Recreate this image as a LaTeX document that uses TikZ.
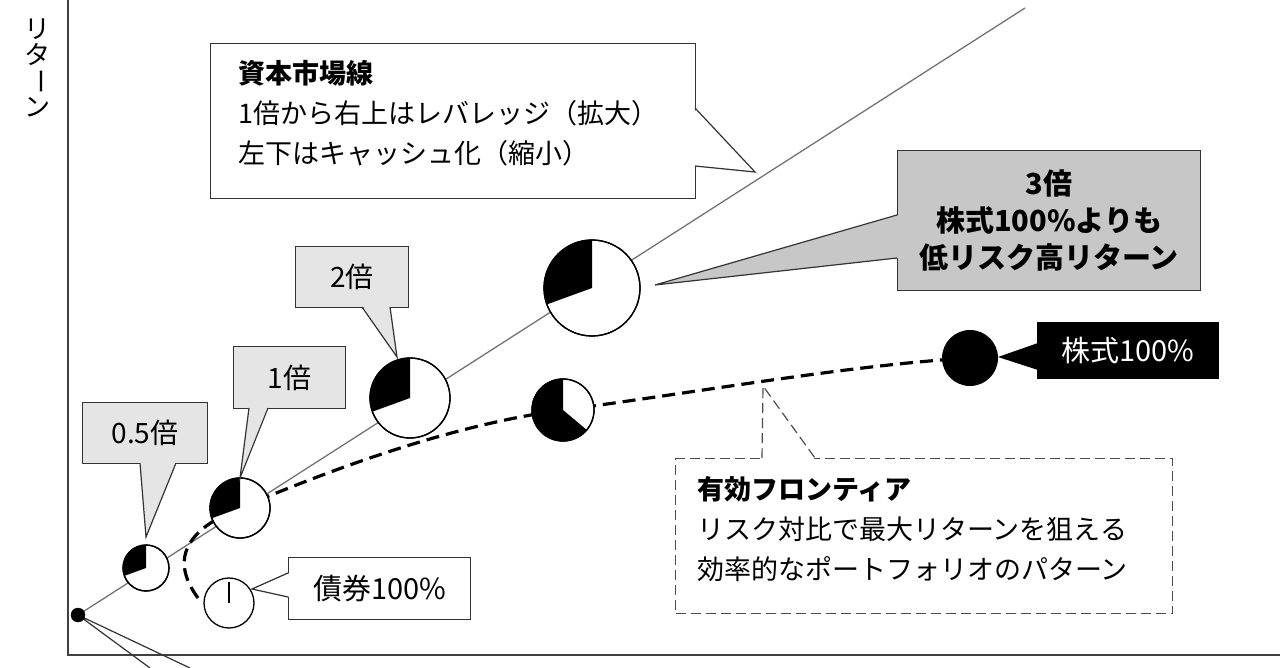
\documentclass[tikz,border=0pt]{standalone}
\usepackage{fontspec}
\setmainfont{Noto Sans CJK JP}
\begin{document}
\begin{tikzpicture}[x=1pt,y=-1pt,
  ax/.style={draw=black!75,line width=1.6pt},
  cml/.style={draw=black!55,line width=1.3pt},
  pie/.style={draw=black,line width=1.3pt,fill=white},
  cbox/.style={draw=black!80,line width=1.2pt,inner sep=0pt,anchor=north west},
  lbl/.style={font=\fontsize{27}{40}\selectfont},
  front/.style={draw=black,line width=3.2pt,dash pattern=on 13pt off 7pt}]
\useasboundingbox (0,0) rectangle (1280,668);
\fill[white] (0,0) rectangle (1280,668);
% axes
\coordinate (ytop) at (68,0); \coordinate (orgc) at (68,655); \coordinate (xend) at (1280,655);
\draw[ax] (ytop) -- (orgc) -- (xend);
\node[font=\fontsize{26}{27}\selectfont,align=center,inner sep=0pt] (ylab) at (37,68)
  {\shortstack{リ\\タ\\\rotatebox[origin=c]{-90}{ー}\\ン}};
% origin and CML
\coordinate (o) at (78,615);
\coordinate (cmlend) at (1025,8);
\coordinate (oc1) at (150,668); \coordinate (oc2) at (190,668);
\draw[black!80,line width=1.2pt] (oc1) -- (o) -- (oc2);
\draw[cml] (o) -- (cmlend);
% frontier curve
\coordinate (f0) at (198,598);
\draw[front] (f0) .. controls (170,560) and (185,530) .. (240,508)
  .. controls (330,470) and (450,425) .. (563,410)
  .. controls (700,392) and (850,365) .. (970,358);
% pies
\foreach \n/\x/\y/\r in {p05/146/568/23, p1/240/508/30, p2/410/398/40, p3/592/288/48}{
  \node[circle,minimum size=2*\r pt,inner sep=0pt] (\n) at (\x,\y) {};
  \filldraw[pie] (\x,\y) circle (\r);
  \fill[black] (\x,\y) -- ++(0,-\r) arc[start angle=-90,end angle=-200,radius=\r] -- cycle;
  \draw[line width=1.3pt] (\x,\y) circle (\r);
}
\node[circle,minimum size=62pt,inner sep=0pt] (pf) at (563,410) {};
\filldraw[pie] (563,410) circle (31);
\fill[black] (563,410) -- ++(0,-31) arc[start angle=-90,end angle=-320,radius=31] -- cycle;
\draw[line width=1.3pt] (563,410) circle (31);
\node[circle,draw,line width=1.3pt,fill=white,minimum size=50pt,inner sep=0pt] (bond) at (229,603) {};
\draw[line width=1.6pt] (bond.center) -- (229,582);
\node[circle,fill=black,minimum size=56pt,inner sep=0pt] (stock) at (970,358) {};
\draw[black,fill=black] (o) circle (7);
% callouts
\newcommand\callout[6]{%
  \fill[#1] #2 -- #3 -- #4 -- cycle;
  \draw[black!80,line width=1.2pt] #5 -- #3 -- #6;}
% 0.5
\node[cbox,fill=black!10,minimum width=125pt,minimum height=61pt] (b05) at (82,402) {};
\node[font=\fontsize{28}{30}\selectfont] at (b05.center) {0.5倍};
\callout{black!10}{(140,461)}{(146,537)}{(176,461)}{(140,463)}{(176,463)}
% 1
\node[cbox,fill=black!10,minimum width=112pt,minimum height=62pt] (b1) at (233,346) {};
\node[font=\fontsize{28}{30}\selectfont] at (b1.center) {1倍};
\callout{black!10}{(249,406)}{(240,478)}{(268,406)}{(249,408)}{(268,408)}
% 2
\node[cbox,fill=black!10,minimum width=113pt,minimum height=61pt] (b2) at (295,246) {};
\node[font=\fontsize{28}{30}\selectfont] at (b2.center) {2倍};
\callout{black!10}{(362,305)}{(397,357)}{(390,305)}{(362,307)}{(390,307)}
% 3
\node[cbox,fill=black!22,minimum width=303pt,minimum height=140pt] (b3) at (897,150) {};
\node[font=\bfseries\fontsize{29}{37}\selectfont,align=center] at (b3.center) {3倍\\株式100\%よりも\\低リスク高リターン};
\callout{black!22}{(899,215)}{(655,285)}{(899,258)}{(897,215)}{(897,258)}
% CML label
\node[cbox,fill=white,minimum width=485pt,minimum height=155pt] (bc) at (210,43) {};
\node[lbl,align=left,anchor=north west,inner sep=0pt] at (238,60) {\textbf{資本市場線}\\1倍から右上はレバレッジ（拡大）\\左下はキャッシュ化（縮小）};
\callout{white}{(693,108)}{(755,172)}{(693,166)}{(695,108)}{(695,166)}
% stock
\node[cbox,fill=black,draw=black,minimum width=181pt,minimum height=56pt] (bs) at (1037,322) {};
\node[font=\fontsize{29}{30}\selectfont,text=white] at (bs.center) {株式100\%};
\fill[black] (1038,343) -- (998,357) -- (1038,370) -- cycle;
% bond
\node[cbox,fill=white,minimum width=182pt,minimum height=62pt] (bb) at (288,557) {};
\node[font=\fontsize{29}{30}\selectfont] at (bb.center) {債券100\%};
\callout{white}{(290,573)}{(252,589)}{(290,597)}{(288,573)}{(288,597)}
% frontier label
\node[cbox,fill=white,dash pattern=on 10pt off 5pt,draw=black!70,minimum width=497pt,minimum height=155pt] (bf) at (675,458) {};
\node[lbl,align=left,anchor=north west,inner sep=0pt] at (697,476) {\textbf{有効フロンティア}\\リスク対比で最大リターンを狙える\\効率的なポートフォリオのパターン};
\coordinate (ft) at (763,386);
\fill[white] (762,460) -- (ft) -- (815,460) -- cycle;
\draw[black!70,line width=1.2pt,dash pattern=on 10pt off 5pt] (762,458) -- (ft) -- (815,458);
\end{tikzpicture}
\end{document}
